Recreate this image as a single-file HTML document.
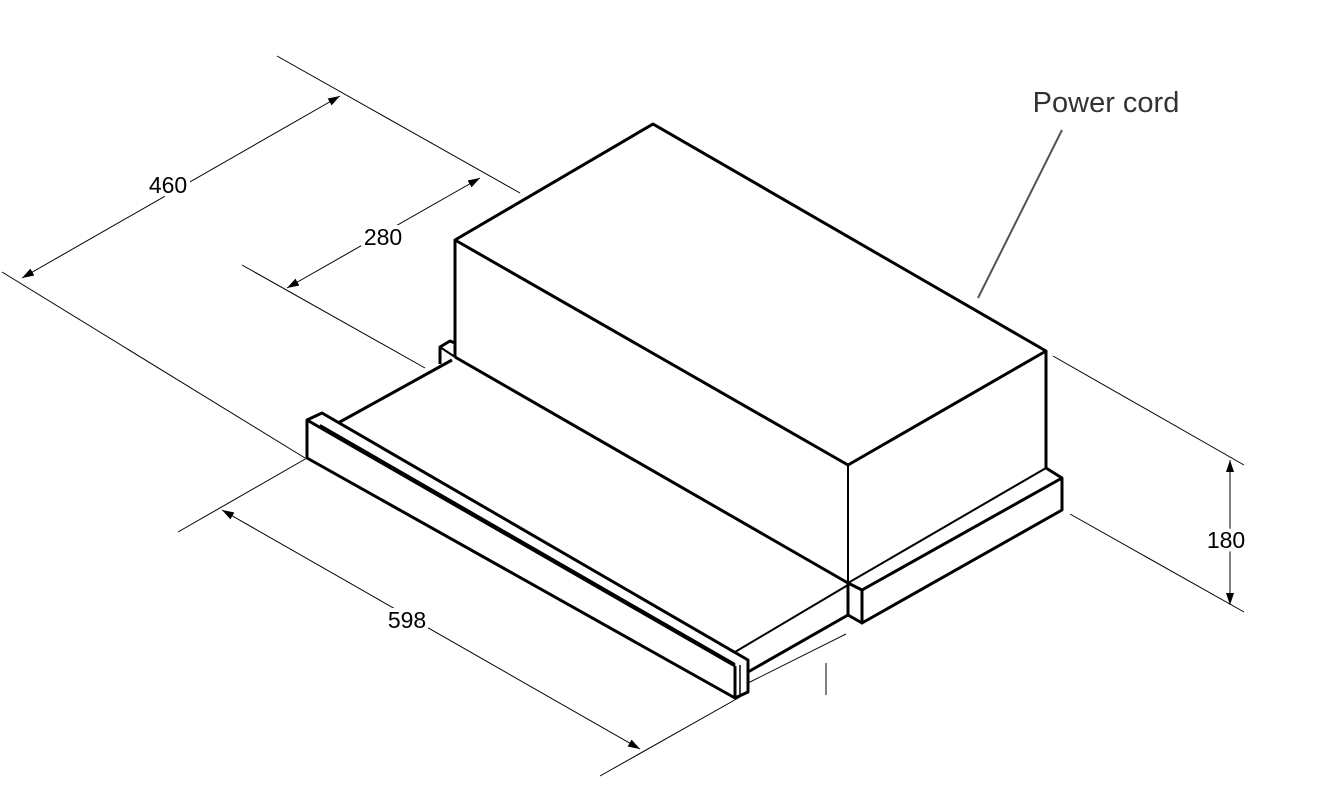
<!DOCTYPE html>
<html><head><style>body{margin:0;background:#fff}svg{display:block}</style></head><body>
<svg width="1317" height="798" xmlns="http://www.w3.org/2000/svg">
<defs><marker id="a" markerWidth="12" markerHeight="8" refX="12" refY="4" orient="auto-start-reverse" markerUnits="userSpaceOnUse"><path d="M0,0 L12,4 L0,8 z" fill="#000"/></marker></defs>
<g stroke="#000" stroke-width="1" fill="none">
<line x1="277" y1="56" x2="520" y2="193"/>
<line x1="2" y1="272" x2="305" y2="458"/>
<line x1="22" y1="278" x2="340" y2="96" marker-start="url(#a)" marker-end="url(#a)"/>
<line x1="242" y1="265" x2="425" y2="368"/>
<line x1="287" y1="288" x2="480" y2="178" marker-start="url(#a)" marker-end="url(#a)"/>
<line x1="178" y1="532" x2="307" y2="458"/>
<line x1="600" y1="776" x2="740" y2="697"/>
<line x1="222" y1="510" x2="640" y2="749" marker-start="url(#a)" marker-end="url(#a)"/>
<line x1="1053" y1="356" x2="1244" y2="465"/>
<line x1="1070" y1="514" x2="1244" y2="612"/>
<line x1="1230" y1="460" x2="1230" y2="605" marker-start="url(#a)" marker-end="url(#a)"/>
<line x1="748" y1="683" x2="846" y2="634"/>
<line x1="826" y1="663" x2="826" y2="695"/>
<line x1="1062" y1="130" x2="978" y2="298" stroke="#555" stroke-width="2"/>
</g>
<g stroke="#000" stroke-width="3" fill="none" stroke-linejoin="round">
<polygon points="653,124 455,240 848,465 1046,351"/>
<line x1="455" y1="240" x2="455" y2="357"/>
<line x1="848" y1="465" x2="848" y2="583" stroke-width="2"/>
<line x1="1046" y1="351" x2="1046" y2="468"/>
<line x1="455" y1="357" x2="848" y2="583"/>
<polyline points="440,364 440,347 450,341 455,343"/>
<line x1="440" y1="347" x2="455" y2="357" stroke-width="2"/>
<line x1="452" y1="360" x2="338" y2="423"/>
<polygon points="307,420 322,413 748,660 748,692 735,698 307,458"/>
<line x1="307" y1="420" x2="735" y2="666"/>
<line x1="320" y1="425" x2="735" y2="664" stroke-width="2"/>
<line x1="735" y1="666" x2="735" y2="698"/>
<line x1="740" y1="665" x2="740" y2="696" stroke-width="1.5"/>
<line x1="735" y1="652" x2="848" y2="585" stroke-width="2"/>
<line x1="748" y1="672" x2="848" y2="615"/>
<line x1="848" y1="583" x2="1046" y2="468" stroke-width="2"/>
<polyline points="1046,468 1062,478 1062,510 862,623 862,590 1062,478"/>
<polyline points="848,583 848,615 862,623"/>
<line x1="848" y1="583" x2="862" y2="590"/>
</g>
<g font-family="Liberation Sans, sans-serif" font-size="23" fill="#000" text-anchor="middle" stroke="#fff" stroke-width="8" paint-order="stroke" stroke-linejoin="round">
<text x="168" y="193">460</text>
<text x="383" y="245">280</text>
<text x="407" y="628">598</text>
<text x="1226" y="548">180</text>
<text x="1106" y="112" font-size="29" fill="#333" stroke-width="0">Power cord</text>
</g>
</svg>
</body></html>
